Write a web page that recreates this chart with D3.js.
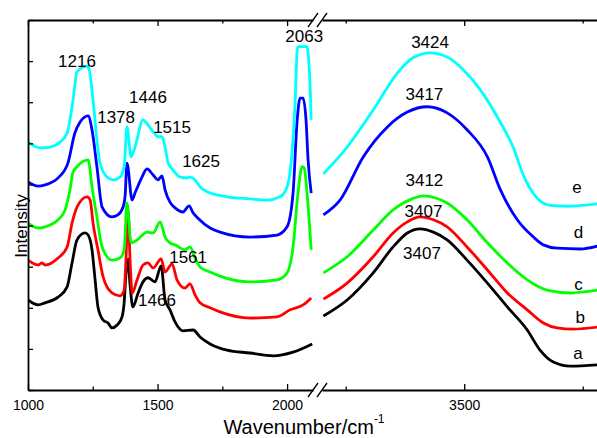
<!DOCTYPE html>
<html><head><meta charset="utf-8">
<script src="https://cdn.jsdelivr.net/npm/d3@7"></script>
<style>
html,body{margin:0;padding:0;background:#fff;}
svg{display:block;font-family:"Liberation Sans",Arial,sans-serif;}
</style></head>
<body><svg id="chart" width="597" height="438"></svg>
<script>
// ---- data (wavenumber, intensity in arbitrary offset units) ----
const seriesNames = ["a","b","c","d","e"];
const seriesColors = ["#000000","#ff0000","#00ff00","#0000ff","#00ffff"];

const aLow = [[1000,2.19],[1039,2.07],[1066,2.12],[1116,2.26],[1151,2.51],[1170,3.09],[1189,3.65],[1220,3.82],[1232,3.77],[1247,3.41],[1259,2.68],[1270,2.02],[1290,1.70],[1309,1.63],[1324,1.51],[1344,1.58],[1363,1.78],[1371,2.12],[1378,2.80],[1386,3.18],[1394,2.55],[1405,2.02],[1425,2.36],[1444,2.63],[1463,2.73],[1490,2.63],[1514,3.02],[1529,2.19],[1548,1.95],[1568,1.65],[1598,1.44],[1637,1.46],[1664,1.29],[1703,1.12],[1768,0.97],[1857,0.90],[1946,0.83],[2023,0.92],[2097,1.12]];
const bLow = [[1000,3.16],[1039,3.04],[1054,3.09],[1066,3.04],[1116,3.21],[1151,3.48],[1170,4.06],[1189,4.45],[1228,4.70],[1240,4.62],[1251,4.06],[1270,3.41],[1290,2.75],[1324,2.36],[1355,2.29],[1371,2.43],[1378,3.16],[1386,4.38],[1394,3.16],[1402,2.36],[1421,2.68],[1444,3.04],[1463,3.09],[1483,2.97],[1514,3.19],[1529,2.87],[1556,3.07],[1575,2.68],[1606,2.48],[1625,2.58],[1645,2.31],[1664,2.12],[1703,2.00],[1741,1.90],[1857,1.75],[1961,1.78],[2012,1.95],[2062,2.07],[2093,2.24]];
const cLow = [[1000,4.06],[1039,3.94],[1066,3.97],[1116,4.14],[1143,4.38],[1162,4.87],[1174,5.30],[1189,5.43],[1232,5.60],[1247,4.94],[1266,4.21],[1286,3.48],[1324,3.16],[1355,3.21],[1371,3.41],[1382,4.55],[1398,3.58],[1421,3.65],[1459,3.84],[1483,3.82],[1510,4.09],[1529,3.72],[1548,3.58],[1568,3.53],[1606,3.41],[1625,3.48],[1645,3.21],[1664,2.99],[1703,2.87],[1741,2.77],[1857,2.63],[1961,2.68],[2000,2.85],[2023,3.48],[2042,4.79],[2058,5.43],[2066,5.40],[2077,4.79],[2093,3.41]];
const dLow = [[1000,5.06],[1039,4.96],[1066,4.99],[1116,5.16],[1154,5.52],[1181,6.25],[1201,6.52],[1232,6.67],[1247,6.33],[1266,5.43],[1286,4.45],[1324,4.21],[1347,4.26],[1367,4.45],[1375,4.74],[1382,5.52],[1402,4.62],[1413,4.79],[1440,5.18],[1459,5.38],[1483,5.23],[1502,5.11],[1517,5.21],[1529,4.87],[1548,4.57],[1568,4.43],[1598,4.33],[1622,4.48],[1637,4.31],[1656,4.18],[1703,3.94],[1741,3.84],[1857,3.72],[1961,3.77],[2000,3.97],[2023,4.79],[2039,6.57],[2050,7.10],[2062,7.10],[2073,6.57],[2081,5.60],[2093,4.79]];
const eLow = [[1000,6.03],[1046,5.89],[1085,5.91],[1124,6.03],[1151,6.25],[1174,7.06],[1189,7.74],[1228,7.88],[1236,7.79],[1251,7.06],[1266,6.08],[1278,5.52],[1305,5.18],[1328,5.11],[1355,5.18],[1371,5.43],[1382,6.40],[1398,5.67],[1413,5.91],[1444,6.57],[1463,6.45],[1483,6.28],[1502,6.16],[1517,6.16],[1529,5.91],[1541,5.52],[1560,5.35],[1587,5.18],[1614,5.16],[1625,5.18],[1645,5.11],[1664,4.94],[1691,4.82],[1768,4.70],[1857,4.65],[1923,4.62],[1973,4.70],[2000,4.94],[2019,5.77],[2031,6.98],[2039,8.27],[2042,8.35],[2077,8.35],[2081,8.20],[2089,7.37],[2093,6.57]];

const aHigh = [[3203,1.80],[3253,2.19],[3308,2.85],[3350,3.48],[3380,3.82],[3407,3.92],[3435,3.84],[3464,3.65],[3506,3.16],[3549,2.60],[3591,2.02],[3633,1.46],[3660,0.97],[3688,0.68],[3724,0.58],[3781,0.61]];
const bHigh = [[3203,2.21],[3253,2.60],[3308,3.24],[3350,3.82],[3380,4.09],[3407,4.21],[3435,4.14],[3464,3.97],[3506,3.48],[3549,2.92],[3591,2.36],[3633,1.95],[3667,1.63],[3696,1.51],[3730,1.48],[3781,1.53]];
const cHigh = [[3203,2.85],[3253,3.24],[3308,3.89],[3350,4.38],[3390,4.65],[3414,4.72],[3440,4.67],[3464,4.55],[3506,4.14],[3549,3.58],[3591,3.09],[3633,2.68],[3675,2.43],[3724,2.36],[3781,2.43]];
const dHigh = [[3203,4.26],[3238,4.62],[3287,5.67],[3338,6.40],[3380,6.76],[3422,6.89],[3464,6.74],[3506,6.33],[3549,5.67],[3576,4.88],[3612,4.14],[3646,3.72],[3667,3.53],[3696,3.45],[3745,3.43],[3781,3.50]];
const eHigh = [[3203,5.26],[3253,5.91],[3308,6.81],[3359,7.71],[3392,8.08],[3428,8.20],[3464,8.10],[3498,7.79],[3534,7.30],[3570,6.64],[3603,5.91],[3625,5.22],[3646,4.78],[3662,4.58],[3681,4.49],[3717,4.47],[3781,4.53]];

const lowSeries = [aLow,bLow,cLow,dLow,eLow];
const highSeries = [aHigh,bHigh,cHigh,dHigh,eHigh];

const lowMajorTicks = [1000,1500,2000];
const lowMinorTicks = [1250,1750];
const highMajorTicks = [3500];
const highMinorTicks = [3250,3750];
const yTicks = [0,1,2,3,4,5,6,7,8,9];

// peak annotations: [text, segment, wavenumber, intensity]
const peakLabels = [
  ["1216","low",1189,7.86],["2063","low",2066,8.47],["1446","low",1463,6.98],
  ["1378","low",1340,6.50],["1515","low",1556,6.25],["1625","low",1668,5.42],
  ["1561","low",1618,3.09],["1466","low",1498,2.04],
  ["3424","high",3428,8.32],["3417","high",3416,7.05],["3412","high",3416,4.96],
  ["3407","high",3414,4.21],["3407","high",3411,3.19]
];
const seriesLabelPos = [[3740,0.75],[3745,1.63],[3741,2.43],[3741,3.70],[3738,4.79]];

// ---- layout ----
const svg = d3.select("#chart");
const plotTop = 20, plotBottom = 390, plotLeft = 28;
const x1 = d3.scaleLinear().domain([1000,2100]).range([plotLeft,313]);
const x2 = d3.scaleLinear().domain([3200,3800]).range([322,606.4]);
const y = d3.scaleLinear().domain([0,9]).range([plotBottom,plotTop]);

const defs = svg.append("defs");
defs.append("clipPath").attr("id","clipLow").append("rect")
  .attr("x",x1.range()[0]).attr("y",0).attr("width",x1.range()[1]-x1.range()[0]).attr("height",plotBottom);
defs.append("clipPath").attr("id","clipHigh").append("rect")
  .attr("x",x2.range()[0]).attr("y",0).attr("width",600).attr("height",plotBottom);

const lineLow = d3.line().x(d=>x1(d[0])).y(d=>y(d[1])).curve(d3.curveMonotoneX);
const lineHigh = d3.line().x(d=>x2(d[0])).y(d=>y(d[1])).curve(d3.curveMonotoneX);

const gLow = svg.append("g").attr("clip-path","url(#clipLow)");
const gHigh = svg.append("g").attr("clip-path","url(#clipHigh)");
lowSeries.forEach((s,i)=>{
  gLow.append("path").attr("d",lineLow(s)).attr("fill","none")
    .attr("stroke",seriesColors[i]).attr("stroke-width",2.8).attr("stroke-linejoin","round");
});
highSeries.forEach((s,i)=>{
  gHigh.append("path").attr("d",lineHigh(s)).attr("fill","none")
    .attr("stroke",seriesColors[i]).attr("stroke-width",2.8).attr("stroke-linejoin","round");
});

// ---- axes ----
const fmt = d3.format("d");
function styleAxis(g){
  g.selectAll("path.domain").attr("stroke","#000").attr("stroke-width",1.8);
  g.selectAll(".tick line").attr("stroke","#000").attr("stroke-width",1.3);
  g.selectAll(".tick text").attr("fill","#000").attr("font-size",14)
    .attr("font-family","Liberation Sans, Arial, sans-serif");
}
// bottom
[[x1,lowMajorTicks,true],[x1,lowMinorTicks,false],[x2,highMajorTicks,true],[x2,highMinorTicks,false]].forEach(([sc,tv,lab])=>{
  const ax = d3.axisBottom(sc).tickValues(tv).tickSizeInner(lab?-6:-3.5).tickSizeOuter(0).tickPadding(10);
  ax.tickFormat(lab ? fmt : "");
  const g = svg.append("g").attr("transform",`translate(0,${plotBottom})`).call(ax);
  if(!lab) g.select("path.domain").remove();
  styleAxis(g);
});
// top
[[x1,lowMajorTicks,-6,true],[x1,lowMinorTicks,-3.5,false],[x2,highMajorTicks,-6,true],[x2,highMinorTicks,-3.5,false]].forEach(([sc,tv,ts,dom])=>{
  const g = svg.append("g").attr("transform",`translate(0,${plotTop})`)
    .call(d3.axisTop(sc).tickValues(tv).tickSizeInner(ts).tickSizeOuter(0).tickFormat(""));
  if(!dom) g.select("path.domain").remove();
  styleAxis(g);
});
// left
{
  const g = svg.append("g").attr("transform",`translate(${plotLeft},0)`)
    .call(d3.axisLeft(y).tickValues(yTicks).tickSizeInner(-5).tickSizeOuter(0).tickFormat(""));
  styleAxis(g);
}

// axis breaks
[x1.range()[1], x2.range()[0]].forEach(bx=>{
  [plotBottom, plotTop].forEach(by=>{
    svg.append("line").attr("x1",bx-5).attr("y1",by+7).attr("x2",bx+5).attr("y2",by-7)
      .attr("stroke","#000").attr("stroke-width",1.3);
  });
});

// axis titles
const xt = svg.append("text").attr("x",304).attr("y",434).attr("text-anchor","middle")
  .attr("font-size",20).attr("fill","#000");
xt.append("tspan").text("Wavenumber/cm");
xt.append("tspan").attr("font-size",12).attr("dy",-11).text("-1");

svg.append("text").attr("transform",`translate(27,226) rotate(-90)`).attr("text-anchor","middle")
  .attr("font-size",17).attr("fill","#000").text("Intensity");

// peak labels
peakLabels.forEach(([t,seg,wv,iv])=>{
  const sx = seg==="low" ? x1 : x2;
  svg.append("text").attr("x",sx(wv)).attr("y",y(iv)).attr("text-anchor","middle")
    .attr("font-size",17).attr("fill","#000").text(t);
});
// series letters
seriesLabelPos.forEach(([wv,iv],i)=>{
  svg.append("text").attr("x",x2(wv)).attr("y",y(iv)).attr("text-anchor","middle")
    .attr("font-size",17).attr("fill","#000").text(seriesNames[i]);
});
</script></body></html>
